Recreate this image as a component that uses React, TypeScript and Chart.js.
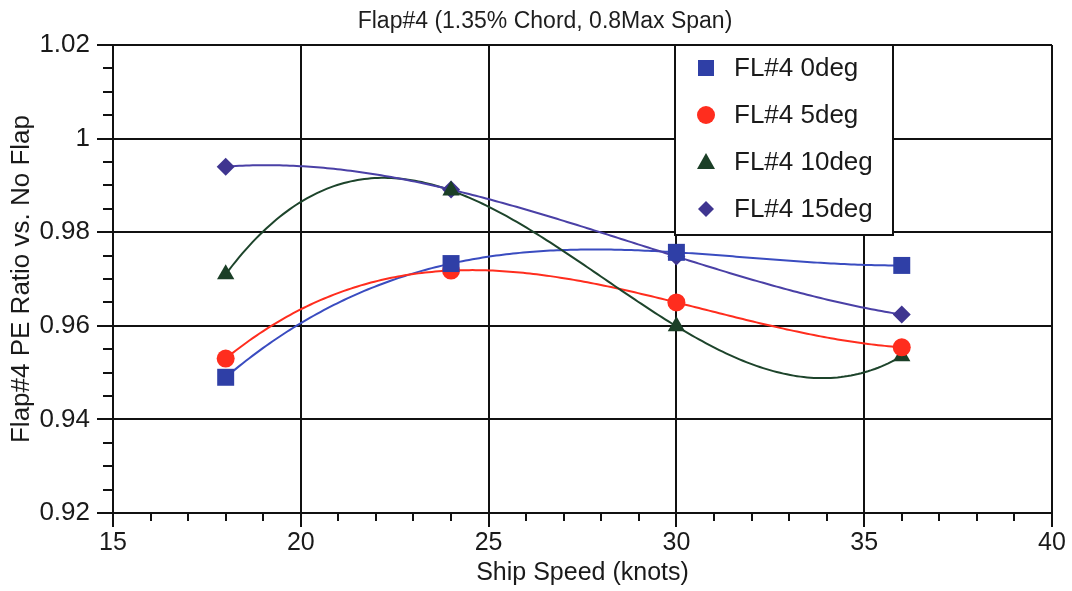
import React, { useEffect, useRef } from 'react';
import { Chart, registerables } from 'chart.js';

Chart.register(...registerables);

// ---- data ----
const speeds = [18, 24, 30, 36];
const fl0deg = [0.949, 0.9733, 0.9757, 0.9729];
const fl5deg = [0.953, 0.9718, 0.965, 0.9554];
const fl10deg = [0.971, 0.9889, 0.9599, 0.9535];
const fl15deg = [0.994, 0.9891, 0.9748, 0.9624];
const seriesLabels = ['FL#4 0deg', 'FL#4 5deg', 'FL#4 10deg', 'FL#4 15deg'];
const chartTitle = 'Flap#4 (1.35% Chord, 0.8Max Span)';
const xAxisTitle = 'Ship Speed (knots)';
const yAxisTitle = 'Flap#4 PE Ratio vs. No Flap';

const FONT = "'Liberation Sans', Arial, sans-serif";

const styles = [
  { fill: '#2f3fa6', line: '#3a4cc0', shape: 'rect', radius: 12 },
  { fill: '#ff2d1e', line: '#ff2d1e', shape: 'circle', radius: 9 },
  { fill: '#1b3f27', line: '#1d442b', shape: 'triangle', radius: 10 },
  { fill: '#3f3590', line: '#4a40a6', shape: 'rectRot', radius: 9 },
];

const seriesValues = [fl0deg, fl5deg, fl10deg, fl15deg];

function lagrange(xs: number[], ys: number[], t: number) {
  let s = 0;
  for (let i = 0; i < xs.length; i++) {
    let l = 1;
    for (let j = 0; j < xs.length; j++) {
      if (j !== i) l *= (t - xs[j]) / (xs[i] - xs[j]);
    }
    s += ys[i] * l;
  }
  return s;
}

const trendPlugin = {
  id: 'cubicTrend',
  beforeDatasetsDraw(chart: any) {
    const { ctx, chartArea, scales } = chart;
    const xs = scales.x, ys = scales.y;
    ctx.save();
    ctx.beginPath();
    ctx.rect(chartArea.left, chartArea.top, chartArea.right - chartArea.left, chartArea.bottom - chartArea.top);
    ctx.clip();
    chart.data.datasets.forEach((ds: any) => {
      const px = ds.data.map((p: any) => p.x);
      const py = ds.data.map((p: any) => p.y);
      const x0 = Math.min(...px), x1 = Math.max(...px);
      const n = 200;
      ctx.beginPath();
      for (let k = 0; k <= n; k++) {
        const t = x0 + ((x1 - x0) * k) / n;
        const X = xs.getPixelForValue(t);
        const Y = ys.getPixelForValue(lagrange(px, py, t));
        if (k === 0) ctx.moveTo(X, Y);
        else ctx.lineTo(X, Y);
      }
      ctx.strokeStyle = ds.trendColor;
      ctx.lineWidth = 2;
      ctx.stroke();
    });
    ctx.restore();
  },
};

const minorTicksPlugin = {
  id: 'minorTicks',
  afterDraw(chart: any) {
    const { ctx, chartArea, scales } = chart;
    const xs = scales.x, ys = scales.y;
    ctx.save();
    ctx.strokeStyle = '#111';
    ctx.lineWidth = 2;
    ctx.beginPath();
    for (let v = xs.min + 1; v < xs.max; v++) {
      if (v % 5 === 0) continue;
      const X = Math.round(xs.getPixelForValue(v));
      ctx.moveTo(X, chartArea.bottom);
      ctx.lineTo(X, chartArea.bottom + 8);
    }
    for (let k = 1; k < 20; k++) {
      if (k % 4 === 0) continue;
      const Y = Math.round(ys.getPixelForValue(ys.min + k * 0.005));
      ctx.moveTo(chartArea.left, Y);
      ctx.lineTo(chartArea.left - 10, Y);
    }
    ctx.stroke();
    ctx.restore();
  },
};

const titlePlugin = {
  id: 'plotTitle',
  afterDraw(chart: any, _args: any, opts: any) {
    const { ctx } = chart;
    ctx.save();
    ctx.fillStyle = '#1e1e1e';
    ctx.font = `${opts.size}px ${FONT}`;
    ctx.textAlign = 'center';
    ctx.textBaseline = 'middle';
    ctx.fillText(opts.text, opts.x, opts.y);
    ctx.restore();
  },
};

function drawMarker(ctx: CanvasRenderingContext2D, shape: string, x: number, y: number, color: string) {
  ctx.fillStyle = color;
  ctx.beginPath();
  if (shape === 'rect') {
    ctx.rect(x - 8, y - 8, 16, 16);
  } else if (shape === 'circle') {
    ctx.arc(x, y, 9, 0, Math.PI * 2);
  } else if (shape === 'triangle') {
    ctx.moveTo(x, y - 9);
    ctx.lineTo(x + 9, y + 7);
    ctx.lineTo(x - 9, y + 7);
    ctx.closePath();
  } else {
    ctx.moveTo(x, y - 8);
    ctx.lineTo(x + 8, y);
    ctx.lineTo(x, y + 8);
    ctx.lineTo(x - 8, y);
    ctx.closePath();
  }
  ctx.fill();
}

const legendBoxPlugin = {
  id: 'legendBox',
  afterDraw(chart: any, _args: any, opts: any) {
    const { ctx } = chart;
    const { left, top, width, height, rowGap, firstRow, markerX, textX } = opts;
    ctx.save();
    ctx.fillStyle = '#ffffff';
    ctx.fillRect(left, top, width, height);
    ctx.strokeStyle = '#111';
    ctx.lineWidth = 2;
    ctx.strokeRect(left, top, width, height);
    chart.data.datasets.forEach((ds: any, i: number) => {
      const y = top + firstRow + i * rowGap;
      drawMarker(ctx, ds.pointStyle, left + markerX, y, ds.backgroundColor);
      ctx.fillStyle = '#1a1a1a';
      ctx.font = `26px ${FONT}`;
      ctx.textBaseline = 'middle';
      ctx.textAlign = 'left';
      ctx.fillText(ds.label, left + textX, y + 1);
    });
    ctx.restore();
  },
};

export default function App() {
  const ref = useRef<HTMLCanvasElement | null>(null);

  useEffect(() => {
    if (!ref.current) return;
    const datasets = seriesLabels.map((label, i) => ({
      label,
      data: speeds.map((s, k) => ({ x: s, y: seriesValues[i][k] })),
      showLine: false,
      pointStyle: styles[i].shape,
      pointRadius: styles[i].radius,
      pointHoverRadius: styles[i].radius,
      backgroundColor: styles[i].fill,
      borderColor: styles[i].fill,
      pointBorderWidth: 0,
      trendColor: styles[i].line,
    }));

    const chart = new Chart(ref.current, {
      type: 'scatter',
      data: { datasets: datasets as any },
      options: {
        animation: false,
        responsive: true,
        maintainAspectRatio: false,
        layout: { padding: { left: 0, right: 20, top: 45, bottom: 0 } },
        plugins: {
          legend: { display: false },
          tooltip: { enabled: false },
          title: { display: false },
          plotTitle: { text: chartTitle, x: 545, y: 22, size: 23 },
          legendBox: {
            left: 675, top: 45, width: 218, height: 190,
            rowGap: 47, firstRow: 23, markerX: 31, textX: 59,
          },
        } as any,
        scales: {
          x: {
            type: 'linear',
            min: 15,
            max: 40,
            afterFit: (s: any) => { s.height = 78; },
            ticks: {
              stepSize: 5,
              color: '#1a1a1a',
              font: { family: FONT, size: 25 },
              padding: 1,
              maxRotation: 0,
              autoSkip: false,
            },
            grid: { color: '#111', lineWidth: 2, tickLength: 14, tickColor: '#111', tickWidth: 2 },
            border: { display: true, color: '#111', width: 2 },
            title: {
              display: true,
              text: xAxisTitle,
              color: '#1a1a1a',
              font: { family: FONT, size: 25 },
              padding: { top: 0, bottom: 3 },
            },
          },
          y: {
            type: 'linear',
            min: 0.92,
            max: 1.02,
            afterFit: (s: any) => { s.width = 113; },
            ticks: {
              stepSize: 0.02,
              color: '#1a1a1a',
              font: { family: FONT, size: 26 },
              padding: 7,
              callback: (v: any) => String(Number(Number(v).toFixed(2))),
            },
            grid: { color: '#111', lineWidth: 2, tickLength: 16, tickColor: '#111', tickWidth: 2 },
            border: { display: true, color: '#111', width: 2 },
            title: {
              display: true,
              text: yAxisTitle,
              color: '#1a1a1a',
              font: { family: FONT, size: 26 },
              padding: { top: 6, bottom: 0 },
            },
          },
        },
      },
      plugins: [trendPlugin, minorTicksPlugin, titlePlugin, legendBoxPlugin],
    });
    return () => chart.destroy();
  }, []);

  return (
    <div style={{ position: 'absolute', left: 0, top: 0, width: 1072, height: 591, background: '#fff' }}>
      <canvas ref={ref} />
    </div>
  );
}
